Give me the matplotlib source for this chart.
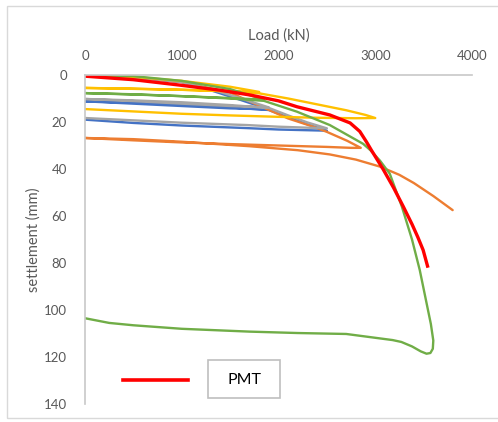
import matplotlib
matplotlib.use('Agg')
import matplotlib.pyplot as plt
from matplotlib.lines import Line2D
from matplotlib.patches import Rectangle

plt.rcParams['font.family'] = ['Lato', 'DejaVu Sans']

# load (kN) / settlement (mm) pairs
blue_load = [0, 500, 1000, 1300, 1600, 1900, 1500, 1000, 500, 0, 500, 1000, 1500, 1900,
             2100, 2300, 2500, 2000, 1675, 1000, 500, 0]
blue_sett = [0, 1, 3, 6.5, 10.5, 14.6, 14.2, 13.2, 12.2, 11.2, 11.8, 12.6, 13.8, 14.9,
             18, 21, 23.7, 23.2, 22.6, 21.5, 20.4, 19]

gray_load = [0, 500, 1000, 1300, 1600, 1900, 1500, 1000, 500, 0, 500, 1000, 1500, 1900,
             2100, 2300, 2500, 2000, 1675, 1000, 500, 0]
gray_sett = [0, 1, 3, 6, 9.8, 13.8, 13.2, 12.2, 11.1, 10.2, 10.8, 11.6, 12.8, 14,
             17.2, 20.2, 22.7, 22, 21.3, 20.3, 19.3, 18.3]

yellow_load = [0, 500, 1000, 1500, 1800, 1500, 1000, 500, 0, 500, 1000, 1500, 1800,
               2100, 2400, 2700, 2900, 3000, 2800, 2400, 2000, 1500, 1000, 500, 0]
yellow_sett = [0, 0.8, 2.5, 5, 7.2, 6.8, 6.3, 5.9, 5.5, 5.8, 6.3, 7, 7.8,
               10, 12.5, 15, 17, 18.3, 18.4, 18.2, 17.8, 17.2, 16.5, 15.5, 14.5]

orange_load = [0, 500, 1000, 1500, 1880, 2100, 2360, 2500, 2710, 2850, 2750, 2500, 2000,
               1500, 1000, 500, 0, 500, 1000, 1700, 2200, 2530, 2800, 3050, 3250, 3400,
               3600, 3800]
orange_sett = [0, 0.8, 3, 7.5, 14.5, 18.5, 22, 24.2, 28, 31, 31, 30.6, 30,
               29.4, 28.7, 27.8, 26.8, 27.3, 28.4, 30.3, 32, 33.8, 36, 39, 42.5, 46,
               51.5, 57.5]

green_load = [0, 500, 1000, 1500, 1850, 1500, 1000, 500, 0, 500, 1000, 1500, 1850,
              2190, 2530, 2875, 2950, 3050, 3150, 3275, 3380, 3460, 3530, 3575, 3600,
              3595, 3570, 3530, 3470, 3380, 3270, 3180, 2700, 2200, 1700, 1000, 500,
              250, 0]
green_sett = [0, 0.5, 2.5, 6, 10.5, 9.8, 9, 8.3, 7.7, 8.2, 9, 10, 11,
              15.6, 21.3, 29.3, 32, 36.5, 42, 56, 70, 83, 97, 106, 113,
              116.5, 118.3, 118.6, 117.6, 115.5, 113.6, 112.8, 110.2, 109.8, 109.2, 108,
              106.5, 105.5, 103.5]

pmt_load = [0, 500, 980, 1400, 1705, 2000, 2190, 2530, 2740, 2840, 2910, 2960, 3080,
            3190, 3290, 3380, 3440, 3495, 3545]
pmt_sett = [0.5, 2, 4.3, 6.5, 8.5, 11, 13.5, 17, 20.4, 24, 28.5, 32, 40,
            48, 56, 63.5, 69, 74.5, 82]

fig = plt.figure(figsize=(4.98, 4.22), dpi=100)
ax = fig.add_axes([85 / 498, 1 - 404 / 422, (472 - 85) / 498, (404 - 75) / 422])

fig.add_artist(Rectangle((7 / 498, 1 - 418 / 422), 495 / 498, 412 / 422,
                         transform=fig.transFigure, fill=False, ec='#d9d9d9', lw=1))

kw = dict(lw=1.7, solid_joinstyle='round', solid_capstyle='round')
ax.plot(blue_load, blue_sett, color='#4472C4', **kw)
ax.plot(orange_load, orange_sett, color='#ED7D31', **kw)
ax.plot(gray_load, gray_sett, color='#A5A5A5', **kw)
ax.plot(yellow_load, yellow_sett, color='#FFC000', **kw)
ax.plot(green_load, green_sett, color='#70AD47', **kw)
ax.plot(pmt_load, pmt_sett, color='#FF0000', lw=2.4, solid_joinstyle='round',
        solid_capstyle='butt')

ax.set_xlim(0, 4000)
ax.set_ylim(140, 0)
ax.set_xticks([0, 1000, 2000, 3000, 4000])
ax.set_yticks(range(0, 141, 20))
ax.xaxis.tick_top()
ax.xaxis.set_label_position('top')
ax.tick_params(length=0, labelsize=9.5, labelcolor='#595959', pad=9)
ax.tick_params(axis='y', pad=13)
for s in ['right', 'bottom']:
    ax.spines[s].set_visible(False)
for s in ['top', 'left']:
    ax.spines[s].set_color('#c8c8c8')
    ax.spines[s].set_linewidth(1.2)
ax.set_xlabel('Load (kN)', fontsize=10.5, color='#595959', labelpad=8)
ax.set_ylabel('settlement (mm)', fontsize=10.5, color='#595959', labelpad=2)

# legend-like annotation
fig.add_artist(Line2D([123 / 498, 188 / 498], [1 - 380 / 422, 1 - 380 / 422],
                      transform=fig.transFigure, color='#FF0000', lw=2.6))
fig.add_artist(Rectangle((208 / 498, 1 - 398 / 422), 72 / 498, 38 / 422,
                         transform=fig.transFigure, fill=True, fc='white',
                         ec='#bfbfbf', lw=1.2))
fig.text(244 / 498, 1 - 380 / 422, 'PMT', ha='center', va='center',
         fontsize=11.5, color='#000000')

fig.savefig('out.png', dpi=100)
